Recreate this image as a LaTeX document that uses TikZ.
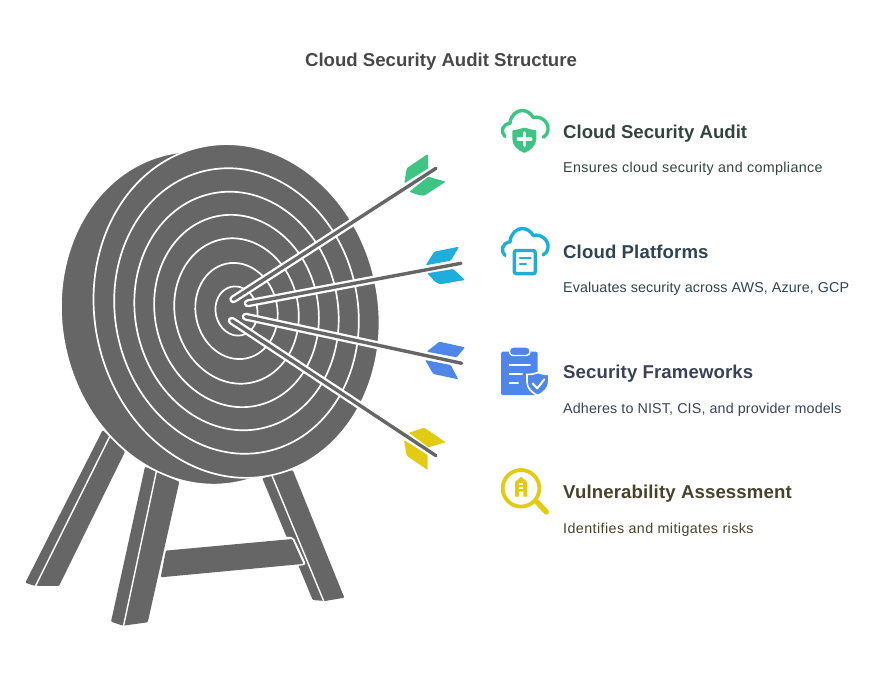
\documentclass[tikz,border=0pt]{standalone}
\usepackage{fontspec}
\setmainfont{Liberation Sans}
\definecolor{tgray}{HTML}{666666}
\definecolor{cgreen}{HTML}{3EC583}
\definecolor{cblue}{HTML}{1EADDC}
\definecolor{cindigo}{HTML}{4F86EA}
\definecolor{cyellow}{HTML}{E2CB12}
\definecolor{ttitle}{HTML}{484848}
\definecolor{tgreen}{HTML}{33443D}
\definecolor{tblue}{HTML}{2F4450}
\definecolor{tindigo}{HTML}{3A4258}
\definecolor{tyellow}{HTML}{46432A}
\newcommand{\spaced}[2]{\addfontfeature{LetterSpace=#1}#2}
\tikzset{
  ringline/.style={draw=white,line width=1.7},
  leg/.style={fill=tgray,rounded corners=1},
  legline/.style={draw=white,line width=1.4},
  halo/.style={draw=white,line width=8,line cap=round},
  shaft/.style={draw=tgray,line width=3.4,line cap=round},
  vane/.style={rounded corners=1},
  head/.style={anchor=base west,inner sep=0,font=\fontsize{18.6}{20}\selectfont\bfseries},
  desc/.style={anchor=base west,inner sep=0,font=\fontsize{14.3}{16}\selectfont},
  iconline/.style={line width=3.4,line cap=round,line join=round},
}
\begin{document}
\begin{tikzpicture}[x=1pt,y=-1pt]
\useasboundingbox (0,0) rectangle (886,676);
% legs
\fill[leg] (102.7,430) -- (25.3,582.7) -- (34,585.7) -- (59,586) -- (125,451.7) -- cycle;
\draw[legline] (110,436) -- (35,587);
\fill[leg] (145,466.7) -- (111,621.7) -- (123,625.7) -- (147.7,622.3) -- (179.3,481.7) -- cycle;
\draw[legline] (156.7,470) -- (123.3,627);
\fill[leg] (262.3,478.3) -- (312.7,600) -- (325,601) -- (344.3,597.7) -- (292.7,470) -- cycle;
\draw[legline] (271.7,475) -- (324.5,603);
\draw[white,line width=1.4,fill=white,rounded corners=2] (284,537.6) -- (292.9,537.6) -- (305.2,564.3) -- (296,565.4) -- cycle;
\fill[tgray,rounded corners=1] (165.9,550.6) -- (160.7,577.3) -- (303.4,563.9) -- (292.2,539) -- cycle;
% discs
\path[fill=tgray,draw=white,line width=1.6] (204,318) ellipse [x radius=141.8, y radius=167.6, rotate=12];
\path[fill=tgray] (236.5,311) ellipse [x radius=142, y radius=167.6, rotate=12];
\foreach \f in {1.003,.858,.717,.578,.437,.289,.148}{
  \path[ringline] (236.5,311) ellipse [x radius={141.3*\f}, y radius={167.4*\f}, rotate=12];
}
% arrows
\draw[halo] (436,168.3) -- (233.3,299.3);
\draw[shaft] (436,168.3) -- (233.3,299.3);
\draw[halo] (461,263.3) -- (247.7,303.3);
\draw[shaft] (461,263.3) -- (247.7,303.3);
\draw[halo] (461.7,363.3) -- (245.7,316.7);
\draw[shaft] (461.7,363.3) -- (245.7,316.7);
\draw[halo] (436,455.7) -- (231.7,320.7);
\draw[shaft] (436,455.7) -- (231.7,320.7);
% vanes
\fill[cgreen,vane] (404.3,183.3) -- (406.7,168.3) -- (427.7,154) -- (428.3,168.3) -- cycle;
\fill[cgreen,vane] (409.3,191.7) -- (428.3,176.7) -- (445.7,181.7) -- (424.3,195.7) -- (418.3,195) -- cycle;
\fill[cblue,vane] (425.7,265.3) -- (434.3,251.7) -- (459,246.7) -- (450.7,260.7) -- cycle;
\fill[cblue,vane] (427.3,273.3) -- (453.3,269) -- (465,280) -- (440,284.3) -- (435,281.7) -- cycle;
\fill[cindigo,vane] (426.7,351.7) -- (439.3,341.7) -- (465,347.3) -- (456.7,357.3) -- cycle;
\fill[cindigo,vane] (425,360) -- (450.7,365) -- (458.3,379.3) -- (433.3,374) -- cycle;
\fill[cyellow,vane] (409,432.7) -- (424.3,427.7) -- (445.7,442.3) -- (428.3,447.3) -- cycle;
\fill[cyellow,vane] (404,440) -- (427.7,455) -- (427.7,470) -- (406.7,455.7) -- cycle;
% title
\node[anchor=base,inner sep=0,text=ttitle,font=\fontsize{18.6}{20}\selectfont\bfseries] (title) at (441,66.5) {Cloud Security Audit Structure};
% texts
\node[head,text=tgreen] (h1) at (563,138.5) {Cloud Security Audit};
\node[desc,text=tgreen] (d1) at (563,173) {\spaced{2.5}{Ensures cloud security and compliance}};
\node[head,text=tblue] (h2) at (563,258.5) {\spaced{0.7}{Cloud Platforms}};
\node[desc,text=tblue] (d2) at (563,293) {\spaced{0.7}{Evaluates security across AWS, Azure, GCP}};
\node[head,text=tindigo] (h3) at (563,378.5) {\spaced{0.6}{Security Frameworks}};
\node[desc,text=tindigo] (d3) at (563,413) {\spaced{1}{Adheres to NIST, CIS, and provider models}};
\node[head,text=tyellow] (h4) at (563,498.5) {\spaced{0.7}{Vulnerability Assessment}};
\node[desc,text=tyellow] (d4) at (563,533) {\spaced{2.9}{Identifies and mitigates risks}};
% icon 1
\draw[cgreen,iconline] (505,136.5) .. controls (500.5,132) and (501.5,124.5) .. (510,123.3) .. controls (510.5,115) and (517,110.5) .. (522,110.5) .. controls (527,110.5) and (531,113.5) .. (533.3,117.5) .. controls (541,115.5) and (549,122) .. (548,130) .. controls (547.8,133) and (546,135.5) .. (543.3,137.3);
\fill[cgreen,rounded corners=1] (512.3,130) .. controls (517,130) and (521,128.5) .. (524.3,127.5) .. controls (528,128.5) and (532,130) .. (536.3,130) -- (536.3,138) .. controls (536.3,146) and (530,150.5) .. (524.3,153) .. controls (518.5,150.5) and (512.3,146) .. (512.3,138) -- cycle;
\draw[white,line width=3.6,line cap=round] (518.3,139.3) -- (530.7,139.3) (524.5,133) -- (524.5,145.5);
% icon 2
\draw[cblue,iconline] (505,255.5) .. controls (500.5,251) and (501.5,243.5) .. (510,241.8) .. controls (510.5,233.5) and (517,228.5) .. (522,228.5) .. controls (527,228.5) and (531,231.5) .. (533.3,235.5) .. controls (541,233.5) and (549,240) .. (548,248) .. controls (547.8,251) and (546,253.5) .. (543,255);
\draw[white,line width=6,fill=white] (511,247) rectangle (539,276);
\draw[cblue,line width=3.4,rounded corners=2,fill=white] (514.4,250.5) rectangle (535.2,273.7);
\draw[cblue,line width=2.2,line cap=round] (520,258.3) -- (530.5,258.3) (520,264) -- (526,264);
% icon 3
\fill[cindigo,rounded corners=2] (501,351.7) rectangle (537.7,395);
\fill[cindigo,draw=white,line width=1.4,rounded corners=3.5] (509.5,347) rectangle (530,355.5);
\draw[white,line width=2,line cap=round] (509.5,365) -- (530,365) (509.5,374) -- (522,374) (509.5,383.3) -- (518,383.3);
\path[fill=cindigo,draw=white,line width=1.6] (527,374.5) .. controls (531,374.5) and (534,374) .. (538,372.5) .. controls (541.5,374) and (545,374.5) .. (548.8,374.5) -- (548.8,382) .. controls (548.8,388) and (543.5,393) .. (537.8,395.5) .. controls (532,393) and (527,388) .. (527,382) -- cycle;
\draw[white,line width=2,line cap=round,line join=round] (532.7,383.5) -- (537.2,388.5) -- (544.3,379.3);
% icon 4
\draw[cyellow,line width=3.8] (521,488.3) circle [radius=18.3];
\draw[cyellow,line width=5.4,line cap=round] (537,502) -- (546.3,512);
\fill[cyellow] (515,482) -- (521,476.7) -- (527.3,482) -- (527.3,496.7) -- (523.3,496.7) -- (523.3,491.5) -- (519,491.5) -- (519,496.7) -- (515,496.7) -- cycle;
\draw[white,line width=1.5] (519,484) -- (523.3,484) (519,488) -- (523.3,488);
\end{tikzpicture}
\end{document}
